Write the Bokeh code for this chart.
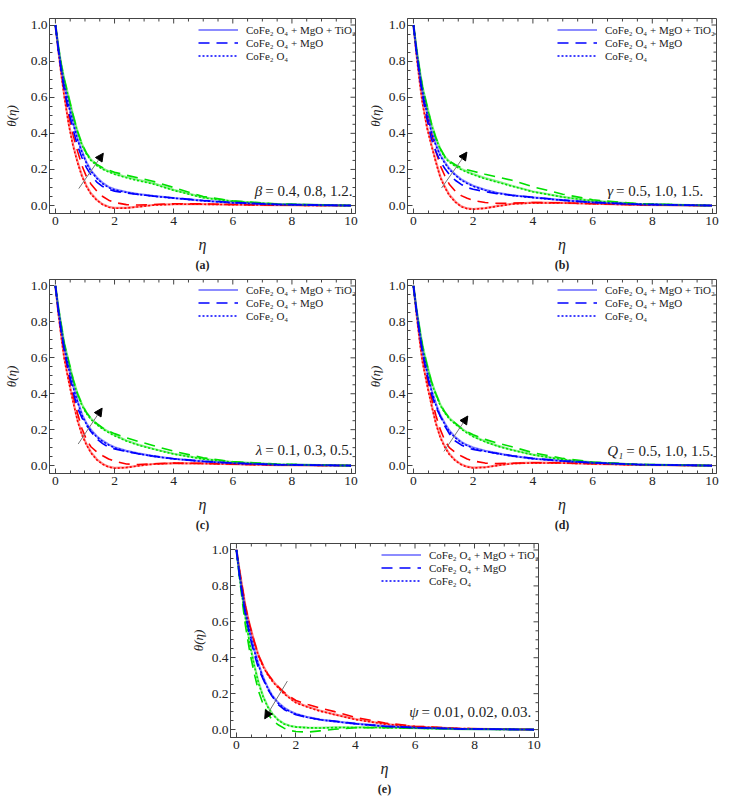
import math

from bokeh.plotting import figure
from bokeh.layouts import column, row
from bokeh.models import (Legend, LegendItem, Label, Arrow, NormalHead, Range1d, Title,
                          Spacer, FixedTicker, PrintfTickFormatter)
from bokeh.embed import file_html
from bokeh.resources import INLINE

# eta grid shared by every curve
eta = [0, 0.1, 0.2, 0.3, 0.45, 0.6, 0.75, 0.9, 1.05, 1.2, 1.4, 1.6, 1.8, 2.0,
       2.4, 2.8, 3.3, 4.0, 5.0, 6.0, 7.5, 10]

# (a) beta
a_red_solid = [1.0, 0.86, 0.73, 0.61, 0.455, 0.335, 0.243, 0.166, 0.11, 0.068, 0.032, 0.007, -0.007, -0.013, -0.013, -0.006, 0.003, 0.008, 0.008, 0.005, 0.002, 0.0]
a_red_dash = [1.0, 0.87, 0.75, 0.64, 0.5, 0.39, 0.3, 0.22, 0.16, 0.12, 0.08, 0.05, 0.03, 0.017, 0.005, 0.003, 0.006, 0.01, 0.009, 0.006, 0.002, 0.0]
a_red_dot = [1.0, 0.855, 0.722, 0.602, 0.447, 0.327, 0.236, 0.16, 0.105, 0.064, 0.029, 0.005, -0.009, -0.015, -0.014, -0.007, 0.002, 0.007, 0.007, 0.005, 0.002, 0.0]
a_blue_solid = [1.0, 0.87, 0.76, 0.67, 0.56, 0.46, 0.37, 0.3, 0.24, 0.195, 0.155, 0.125, 0.103, 0.09, 0.075, 0.064, 0.054, 0.042, 0.027, 0.016, 0.006, 0.0]
a_blue_dash = [1.0, 0.86, 0.74, 0.64, 0.52, 0.42, 0.33, 0.265, 0.21, 0.17, 0.13, 0.105, 0.09, 0.08, 0.07, 0.061, 0.053, 0.042, 0.028, 0.017, 0.006, 0.0]
a_blue_dot = [1.0, 0.865, 0.753, 0.662, 0.552, 0.452, 0.363, 0.294, 0.235, 0.19, 0.151, 0.121, 0.1, 0.087, 0.073, 0.062, 0.052, 0.041, 0.026, 0.015, 0.006, 0.0]
a_green_solid = [1.0, 0.88, 0.78, 0.7, 0.6, 0.5, 0.41, 0.34, 0.29, 0.255, 0.225, 0.205, 0.19, 0.177, 0.158, 0.142, 0.124, 0.087, 0.045, 0.024, 0.008, 0.0]
a_green_dash = [1.0, 0.88, 0.78, 0.7, 0.6, 0.5, 0.41, 0.34, 0.29, 0.257, 0.228, 0.21, 0.196, 0.185, 0.168, 0.153, 0.135, 0.1, 0.05, 0.026, 0.009, 0.0]
a_green_dot = [1.0, 0.875, 0.774, 0.693, 0.592, 0.493, 0.404, 0.334, 0.285, 0.25, 0.221, 0.201, 0.186, 0.173, 0.154, 0.138, 0.12, 0.084, 0.043, 0.023, 0.008, 0.0]

# (b) gamma
b_red_solid = [1.0, 0.84, 0.7, 0.575, 0.44, 0.34, 0.246, 0.16, 0.105, 0.06, 0.022, -0.004, -0.016, -0.019, -0.014, -0.003, 0.009, 0.016, 0.015, 0.01, 0.004, 0.0]
b_red_dash = [1.0, 0.86, 0.74, 0.63, 0.5, 0.4, 0.3, 0.22, 0.165, 0.118, 0.08, 0.055, 0.04, 0.028, 0.017, 0.012, 0.013, 0.017, 0.015, 0.01, 0.004, 0.0]
b_red_dot = [1.0, 0.835, 0.693, 0.567, 0.432, 0.332, 0.239, 0.154, 0.1, 0.056, 0.019, -0.006, -0.018, -0.021, -0.015, -0.004, 0.008, 0.015, 0.014, 0.01, 0.004, 0.0]
b_blue_solid = [1.0, 0.86, 0.74, 0.635, 0.52, 0.415, 0.34, 0.28, 0.24, 0.205, 0.172, 0.145, 0.126, 0.11, 0.087, 0.071, 0.057, 0.045, 0.03, 0.018, 0.007, 0.0]
b_blue_dash = [1.0, 0.85, 0.72, 0.61, 0.48, 0.37, 0.3, 0.245, 0.205, 0.172, 0.14, 0.117, 0.1, 0.09, 0.077, 0.066, 0.057, 0.046, 0.03, 0.018, 0.007, 0.0]
b_blue_dot = [1.0, 0.855, 0.733, 0.627, 0.512, 0.407, 0.333, 0.274, 0.235, 0.2, 0.168, 0.141, 0.122, 0.107, 0.085, 0.069, 0.056, 0.044, 0.029, 0.017, 0.007, 0.0]
b_green_solid = [1.0, 0.87, 0.76, 0.66, 0.555, 0.455, 0.376, 0.315, 0.27, 0.245, 0.222, 0.203, 0.188, 0.175, 0.152, 0.134, 0.11, 0.078, 0.048, 0.026, 0.009, 0.0]
b_green_dash = [1.0, 0.87, 0.76, 0.66, 0.555, 0.455, 0.376, 0.315, 0.272, 0.247, 0.226, 0.21, 0.198, 0.19, 0.173, 0.158, 0.14, 0.104, 0.063, 0.032, 0.01, 0.0]
b_green_dot = [1.0, 0.865, 0.753, 0.652, 0.547, 0.448, 0.37, 0.31, 0.265, 0.24, 0.218, 0.199, 0.184, 0.171, 0.148, 0.13, 0.107, 0.076, 0.047, 0.025, 0.009, 0.0]

# (c) lambda
c_red_solid = [1.0, 0.85, 0.72, 0.6, 0.475, 0.36, 0.254, 0.175, 0.12, 0.075, 0.035, 0.009, -0.006, -0.013, -0.01, -0.001, 0.009, 0.014, 0.012, 0.008, 0.003, 0.0]
c_red_dash = [1.0, 0.86, 0.74, 0.63, 0.5, 0.39, 0.29, 0.205, 0.145, 0.105, 0.076, 0.055, 0.037, 0.024, 0.009, 0.006, 0.01, 0.014, 0.012, 0.008, 0.003, 0.0]
c_red_dot = [1.0, 0.845, 0.713, 0.592, 0.467, 0.352, 0.247, 0.169, 0.115, 0.071, 0.032, 0.007, -0.008, -0.015, -0.011, -0.002, 0.008, 0.013, 0.011, 0.008, 0.003, 0.0]
c_blue_solid = [1.0, 0.87, 0.76, 0.66, 0.548, 0.445, 0.36, 0.285, 0.235, 0.2, 0.163, 0.138, 0.118, 0.102, 0.082, 0.068, 0.053, 0.038, 0.024, 0.014, 0.005, 0.0]
c_blue_dash = [1.0, 0.86, 0.74, 0.64, 0.52, 0.41, 0.32, 0.265, 0.225, 0.19, 0.148, 0.122, 0.103, 0.093, 0.078, 0.066, 0.053, 0.038, 0.024, 0.014, 0.005, 0.0]
c_blue_dot = [1.0, 0.865, 0.753, 0.652, 0.54, 0.437, 0.353, 0.279, 0.23, 0.195, 0.159, 0.134, 0.115, 0.099, 0.08, 0.066, 0.052, 0.037, 0.023, 0.013, 0.005, 0.0]
c_green_solid = [1.0, 0.88, 0.78, 0.68, 0.58, 0.48, 0.4, 0.34, 0.295, 0.262, 0.232, 0.207, 0.188, 0.17, 0.14, 0.117, 0.094, 0.066, 0.037, 0.02, 0.007, 0.0]
c_green_dash = [1.0, 0.88, 0.78, 0.68, 0.58, 0.48, 0.4, 0.34, 0.295, 0.263, 0.234, 0.21, 0.192, 0.178, 0.155, 0.135, 0.112, 0.08, 0.043, 0.022, 0.008, 0.0]
c_green_dot = [1.0, 0.875, 0.773, 0.672, 0.572, 0.473, 0.394, 0.334, 0.29, 0.257, 0.228, 0.203, 0.184, 0.166, 0.137, 0.114, 0.092, 0.064, 0.036, 0.019, 0.007, 0.0]

# (d) Q1
d_red_solid = [1.0, 0.85, 0.71, 0.585, 0.46, 0.345, 0.24, 0.16, 0.107, 0.066, 0.03, 0.007, -0.006, -0.011, -0.009, 0.001, 0.012, 0.016, 0.015, 0.01, 0.004, 0.0]
d_red_dash = [1.0, 0.86, 0.73, 0.62, 0.49, 0.38, 0.28, 0.2, 0.14, 0.1, 0.073, 0.053, 0.037, 0.026, 0.014, 0.011, 0.013, 0.016, 0.015, 0.01, 0.004, 0.0]
d_red_dot = [1.0, 0.845, 0.703, 0.577, 0.452, 0.337, 0.233, 0.154, 0.102, 0.062, 0.027, 0.005, -0.008, -0.013, -0.01, 0.0, 0.011, 0.015, 0.014, 0.01, 0.004, 0.0]
d_blue_solid = [1.0, 0.87, 0.75, 0.645, 0.53, 0.425, 0.345, 0.28, 0.235, 0.195, 0.158, 0.132, 0.114, 0.1, 0.082, 0.069, 0.054, 0.039, 0.026, 0.016, 0.006, 0.0]
d_blue_dash = [1.0, 0.86, 0.735, 0.63, 0.51, 0.4, 0.325, 0.275, 0.22, 0.178, 0.137, 0.115, 0.1, 0.09, 0.078, 0.068, 0.055, 0.04, 0.026, 0.016, 0.006, 0.0]
d_blue_dot = [1.0, 0.865, 0.743, 0.637, 0.522, 0.418, 0.338, 0.274, 0.23, 0.19, 0.154, 0.128, 0.111, 0.097, 0.08, 0.067, 0.053, 0.038, 0.025, 0.015, 0.006, 0.0]
d_green_solid = [1.0, 0.87, 0.77, 0.67, 0.565, 0.47, 0.4, 0.34, 0.298, 0.265, 0.235, 0.207, 0.185, 0.164, 0.135, 0.111, 0.088, 0.061, 0.034, 0.018, 0.006, 0.0]
d_green_dash = [1.0, 0.87, 0.77, 0.67, 0.565, 0.47, 0.4, 0.34, 0.298, 0.265, 0.236, 0.209, 0.188, 0.172, 0.146, 0.126, 0.105, 0.072, 0.04, 0.02, 0.007, 0.0]
d_green_dot = [1.0, 0.865, 0.763, 0.662, 0.557, 0.463, 0.394, 0.334, 0.293, 0.26, 0.231, 0.203, 0.181, 0.161, 0.132, 0.109, 0.086, 0.06, 0.033, 0.017, 0.006, 0.0]

# (e) psi
e_red_solid = [1.0, 0.89, 0.79, 0.69, 0.58, 0.49, 0.41, 0.355, 0.31, 0.275, 0.237, 0.203, 0.177, 0.152, 0.127, 0.106, 0.085, 0.058, 0.031, 0.017, 0.006, 0.0]
e_red_dash = [1.0, 0.89, 0.79, 0.69, 0.58, 0.49, 0.41, 0.355, 0.31, 0.277, 0.24, 0.208, 0.183, 0.162, 0.14, 0.12, 0.1, 0.068, 0.036, 0.019, 0.006, 0.0]
e_red_dot = [1.0, 0.885, 0.783, 0.682, 0.572, 0.482, 0.404, 0.349, 0.305, 0.27, 0.233, 0.199, 0.173, 0.149, 0.124, 0.103, 0.083, 0.056, 0.03, 0.016, 0.006, 0.0]
e_blue_solid = [1.0, 0.87, 0.76, 0.66, 0.545, 0.445, 0.36, 0.29, 0.235, 0.19, 0.15, 0.122, 0.102, 0.088, 0.069, 0.056, 0.046, 0.033, 0.019, 0.011, 0.004, 0.0]
e_blue_dash = [1.0, 0.86, 0.745, 0.64, 0.52, 0.42, 0.335, 0.28, 0.225, 0.185, 0.14, 0.112, 0.096, 0.083, 0.067, 0.056, 0.047, 0.033, 0.019, 0.011, 0.004, 0.0]
e_blue_dot = [1.0, 0.865, 0.753, 0.652, 0.537, 0.438, 0.354, 0.285, 0.23, 0.186, 0.147, 0.119, 0.1, 0.086, 0.067, 0.055, 0.045, 0.032, 0.018, 0.011, 0.004, 0.0]
e_green_solid = [1.0, 0.86, 0.74, 0.63, 0.48, 0.36, 0.26, 0.185, 0.13, 0.09, 0.055, 0.033, 0.021, 0.015, 0.011, 0.01, 0.012, 0.013, 0.012, 0.008, 0.003, 0.0]
e_green_dash = [1.0, 0.85, 0.71, 0.58, 0.43, 0.31, 0.21, 0.14, 0.09, 0.055, 0.027, 0.008, -0.005, -0.011, -0.014, -0.007, 0.002, 0.01, 0.011, 0.008, 0.003, 0.0]
e_green_dot = [1.0, 0.855, 0.733, 0.622, 0.472, 0.353, 0.254, 0.18, 0.126, 0.087, 0.053, 0.031, 0.02, 0.014, 0.01, 0.009, 0.011, 0.012, 0.011, 0.008, 0.003, 0.0]

legend_labels = ["CoFe\u2082 O\u2084 + MgO + TiO\u2082", "CoFe\u2082 O\u2084 + MgO", "CoFe\u2082 O\u2084"]
x_ticks = [0, 2, 4, 6, 8, 10]
y_ticks = [0.0, 0.2, 0.4, 0.6, 0.8, 1.0]
x_minor = [i * 0.5 for i in range(21) if i % 4]
y_minor = [round(i * 0.05, 2) for i in range(21) if i % 4]

COLORS = {"red": "#ff0000", "blue": "#0000ff", "green": "#00e000"}
FONT = "Liberation Serif"
X_RANGE = (-0.2, 10.15)
Y_RANGE = (-0.044, 1.036)

panels = {
    "a": dict(tag="(a)", sym="\u03b2", vals="= 0.4, 0.8, 1.2.", split=7.03, ty=0.083,
              arrow=(0.79, 0.094, 1.62, 0.29), legend_dx=164,
              curves={"red": (a_red_solid, a_red_dash, a_red_dot),
                      "blue": (a_blue_solid, a_blue_dash, a_blue_dot),
                      "green": (a_green_solid, a_green_dash, a_green_dot)}),
    "b": dict(tag="(b)", sym="\u03b3", vals="= 0.5, 1.0, 1.5.", split=6.72, ty=0.078,
              arrow=(0.94, 0.097, 1.79, 0.296), legend_dx=167,
              curves={"red": (b_red_solid, b_red_dash, b_red_dot),
                      "blue": (b_blue_solid, b_blue_dash, b_blue_dot),
                      "green": (b_green_solid, b_green_dash, b_green_dot)}),
    "c": dict(tag="(c)", sym="\u03bb", vals="= 0.1, 0.3, 0.5.", split=7.03, ty=0.088,
              arrow=(0.77, 0.12, 1.58, 0.32), legend_dx=164,
              curves={"red": (c_red_solid, c_red_dash, c_red_dot),
                      "blue": (c_blue_solid, c_blue_dash, c_blue_dot),
                      "green": (c_green_solid, c_green_dash, c_green_dot)}),
    "d": dict(tag="(d)", sym="Q\u2081", vals="= 0.5, 1.0, 1.5.", split=7.06, ty=0.079,
              arrow=(1.02, 0.079, 1.82, 0.276), legend_dx=167,
              curves={"red": (d_red_solid, d_red_dash, d_red_dot),
                      "blue": (d_blue_solid, d_blue_dash, d_blue_dot),
                      "green": (d_green_solid, d_green_dash, d_green_dot)}),
    "e": dict(tag="(e)", sym="\u03c8", vals="= 0.01, 0.02, 0.03.", split=6.15, ty=0.096,
              arrow=(1.71, 0.27, 0.95, 0.06), legend_dx=165,
              curves={"red": (e_red_solid, e_red_dash, e_red_dot),
                      "blue": (e_blue_solid, e_blue_dash, e_blue_dot),
                      "green": (e_green_solid, e_green_dash, e_green_dot)}),
}


def style_axis(ax, ticks, minor, fmt):
    ax.ticker = FixedTicker(ticks=ticks, minor_ticks=minor)
    ax.formatter = PrintfTickFormatter(format=fmt)
    ax.axis_line_color = "#444444"
    ax.major_tick_line_color = "#444444"
    ax.minor_tick_line_color = "#444444"
    ax.major_tick_in = 5
    ax.major_tick_out = 0
    ax.minor_tick_in = 3
    ax.minor_tick_out = 0
    ax.major_label_text_font = FONT
    ax.major_label_text_font_size = "13.5px"
    ax.major_label_text_color = "#222222"
    ax.axis_label_text_font = FONT
    ax.axis_label_text_font_style = "italic"
    ax.axis_label_text_color = "#222222"


def make_panel(key, width, height, left, right, top, bottom, ylabel_gap):
    cfg = panels[key]
    p = figure(width=width, height=height, x_range=Range1d(*X_RANGE),
               y_range=Range1d(*Y_RANGE), output_backend="svg",
               toolbar_location=None, min_border_left=left, min_border_right=right,
               min_border_top=top, min_border_bottom=bottom,
               x_axis_label="\u03b7", y_axis_label="\u03b8(\u03b7)")
    p.grid.visible = False
    p.outline_line_color = "#444444"
    frame_w = width - left - right
    frame_h = height - top - bottom

    style_axis(p.xaxis[0], x_ticks, x_minor, "%d")
    style_axis(p.yaxis[0], y_ticks, y_minor, "%.1f")
    p.xaxis[0].axis_label_text_font_size = "16px"
    p.xaxis[0].axis_label_standoff = 8
    p.xaxis[0].major_label_standoff = 3
    p.yaxis[0].axis_label_text_font_size = "13px"
    p.yaxis[0].axis_label_standoff = ylabel_gap
    p.yaxis[0].major_label_standoff = 2

    # frame ticks on top and right edges (half of each dash is clipped by the frame)
    tick_col = "#444444"
    p.scatter(x_ticks, [Y_RANGE[1]] * len(x_ticks), marker="dash", angle=math.pi / 2,
              size=10, line_color=tick_col)
    p.scatter(x_minor, [Y_RANGE[1]] * len(x_minor), marker="dash", angle=math.pi / 2,
              size=6, line_color=tick_col)
    p.scatter([X_RANGE[1]] * len(y_ticks), y_ticks, marker="dash", size=10,
              line_color=tick_col)
    p.scatter([X_RANGE[1]] * len(y_minor), y_minor, marker="dash", size=6,
              line_color=tick_col)

    blue_renderers = []
    for name in ("red", "green", "blue"):
        solid, dash, dot = cfg["curves"][name]
        col = COLORS[name]
        r1 = p.line(eta, solid, line_color=col, line_width=2.2, line_alpha=0.45)
        r2 = p.line(eta, dash, line_color=col, line_width=1.6, line_dash="11 7")
        r3 = p.line(eta, dot, line_color=col, line_width=1.6, line_dash="2 2")
        if name == "blue":
            blue_renderers = [r1, r2, r3]

    legend = Legend(items=[LegendItem(label=t, renderers=[r])
                           for t, r in zip(legend_labels, blue_renderers)],
                    location=(frame_w - cfg["legend_dx"], frame_h - 44), margin=0,
                    padding=2, spacing=0, glyph_width=40, glyph_height=13,
                    label_height=13, label_standoff=8, label_text_font=FONT,
                    label_text_font_size="11px", label_text_color="#222222",
                    border_line_color=None, background_fill_alpha=0)
    p.add_layout(legend, "center")

    x0, y0, x1, y1 = cfg["arrow"]
    p.add_layout(Arrow(x_start=x0, y_start=y0, x_end=x1, y_end=y1,
                       line_color="#777777", line_width=1,
                       end=NormalHead(size=8, fill_color="black", line_color="black")))

    p.add_layout(Label(x=cfg["split"], y=cfg["ty"], text=cfg["sym"], text_align="right",
                       text_baseline="middle", text_font=FONT, text_font_style="italic",
                       text_font_size="15px", text_color="#222222", x_offset=-1))
    p.add_layout(Label(x=cfg["split"], y=cfg["ty"], text=cfg["vals"], text_align="left",
                       text_baseline="middle", text_font=FONT, text_font_size="15px",
                       text_color="#222222", x_offset=2))

    p.add_layout(Title(text=cfg["tag"], align="center", text_font=FONT,
                       text_font_size="12px", text_font_style="bold",
                       text_color="#222222", standoff=1), "below")
    return p


pa = make_panel("a", 364, 276, 42, 9, 18, 63, 9)
pb = make_panel("b", 358, 276, 35, 6, 18, 63, 3)
pc = make_panel("c", 364, 261, 42, 9, 3, 63, 9)
pd_ = make_panel("d", 358, 261, 35, 6, 2, 64, 3)
pe = make_panel("e", 357, 263, 35, 6, 6, 63, 3)

layout = column(row(pa, pb), row(pc, pd_), row(Spacer(width=187, height=10), pe))

open("out.html", "w").write(file_html(layout, INLINE))
